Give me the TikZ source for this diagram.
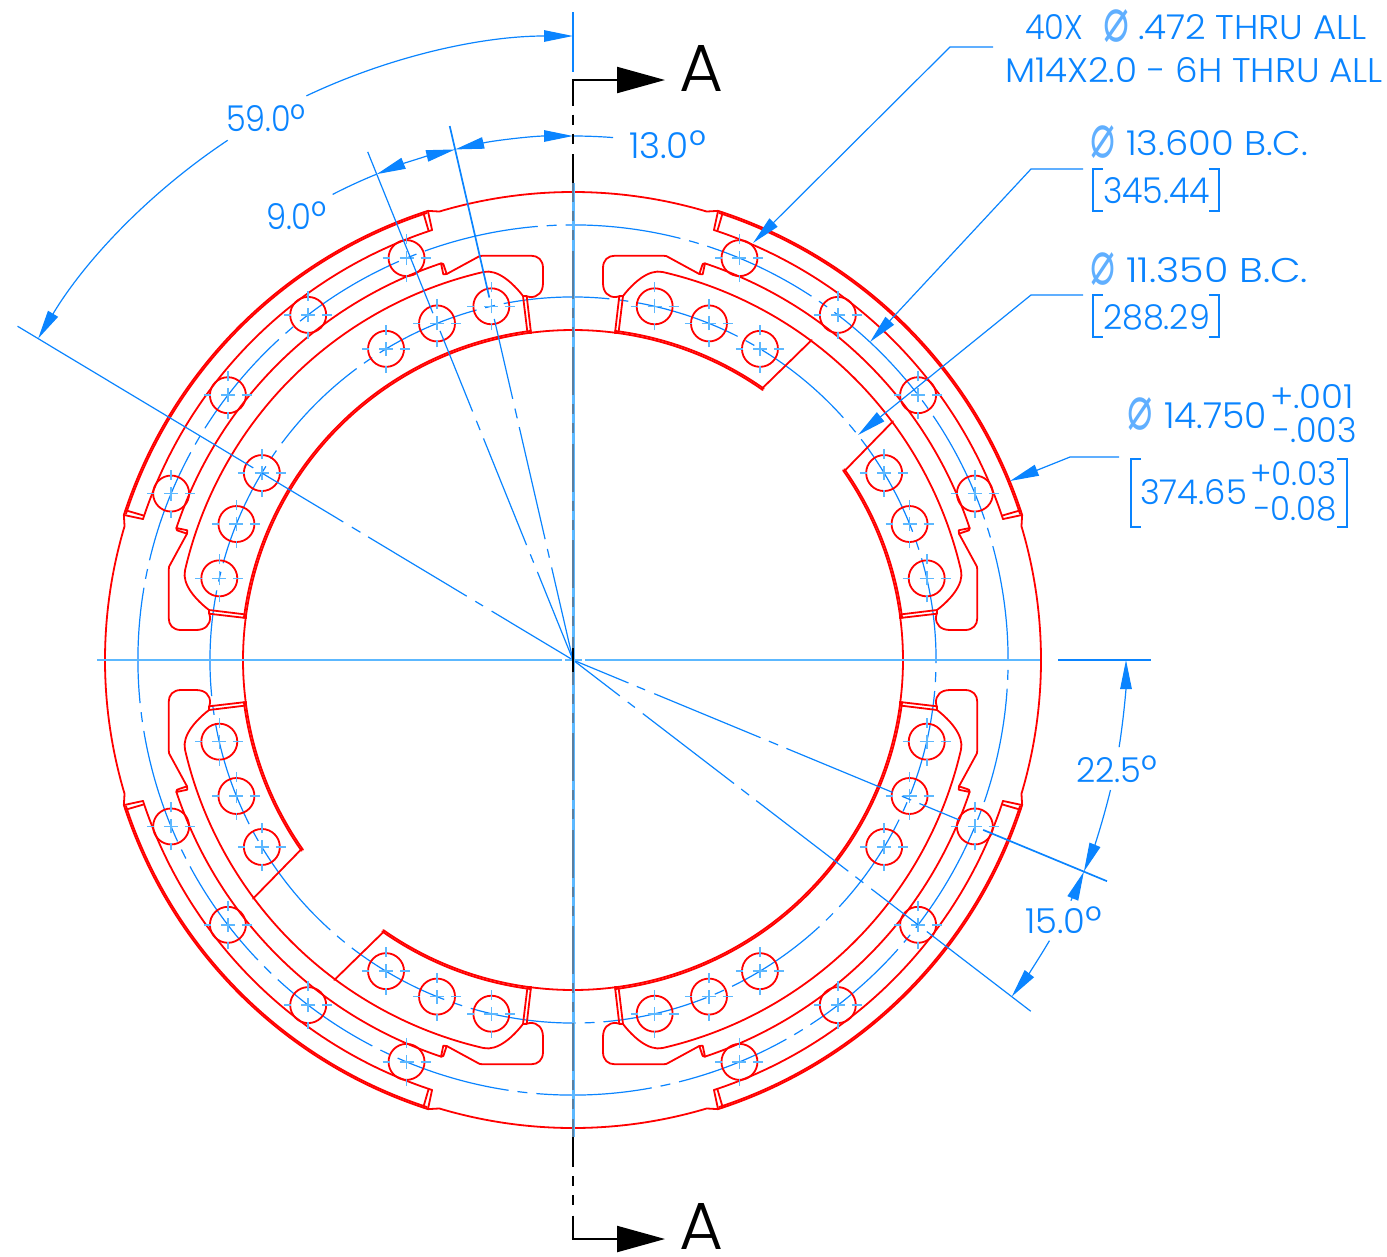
\documentclass[tikz,border=0pt]{standalone}
\usepackage{fontspec}
\usepackage{graphicx}
\usetikzlibrary{arrows.meta}
\setmainfont{Poppins Light}
\newfontfamily\dejavu{DejaVu Sans}
\definecolor{partred}{HTML}{FF0000}
\definecolor{dimblue}{HTML}{0A84FF}
\definecolor{lightblue}{HTML}{5CB8FF}
\definecolor{slate}{HTML}{5A7FA0}
\tikzset{
  partline/.style={draw=partred,line width=1.8pt,line join=round,line cap=round},
  dimline/.style={draw=dimblue,line width=1.2pt},
  thickdim/.style={draw=dimblue,line width=1.7pt},
  markline/.style={draw=lightblue,line width=1.6pt},
  bracketline/.style={draw=dimblue,line width=1.2pt},
  dimtip/.tip={Triangle[length=29pt,width=11.5pt]},
  sectip/.tip={Triangle[length=48pt,width=26pt]},
  dimtext/.style={text=dimblue,inner sep=0pt,outer sep=0pt,anchor=base west},
  symtext/.style={text=dimblue!65,inner sep=0pt,outer sep=0pt,anchor=south west},
  secttext/.style={text=black,inner sep=0pt,outer sep=0pt,anchor=base west},
  sectionchain/.style={line width=2.6pt,dash pattern=on 48pt off 9pt on 10pt off 9pt on 10pt off 10.5pt,dash phase=22.5pt},
}
\newcommand\fit[3]{\resizebox{#1pt}{#2pt}{#3}}
\newcommand\dia[2]{\resizebox*{#1pt}{#2pt}{\dejavu ⌀}}
\newcommand\degsign{\smash{\raisebox{-0.12ex}{\scalebox{1.2}{°}}}}
% polar helper: angle measured from vertical, clockwise
\newcommand\halfprofile[1]{%
  % outer gap arc, transition, notch
  \draw[partline] (90:468) arc[start angle=90,end angle=73.4,radius=468] -- (72.1:472) -- (71.85:452.5);
  \draw[partline] (71.5:472) -- (71.4:452.5);
  \draw[partline] (72.1:472) arc[start angle=72.1,end angle=45,radius=472];
  \draw[partline] (71.9:470.3) arc[start angle=71.9,end angle=45,radius=470.3];
  \draw[partline] (71.85:452.5) arc[start angle=71.85,end angle=45,radius=452.5];
  % tab and inner arc of the outer ring
  \draw[partline] (126.3,386) -- (129.7,396) -- (132,396.7) -- (129.7,385.7) -- cycle;
  \draw[partline] (71.6:418) arc[start angle=71.6,end angle=45,radius=418];
  % hook
  \draw[partline] (126.3,386) -- (96,402.5) .. controls (94,403.8) and (93,404.3) .. (90,404.3) -- (42,404.3)
     .. controls (35,404.3) and (30,400) .. (30,392) -- (30,377)
     .. controls (30,368) and (35,362.5) .. (43,363) -- (48,364);
  % inner piece edge
  \draw[partline] (42,327) -- (46.3,364) -- (50,364) -- (45.5,327) -- cycle;
  \draw[partline] (50,364) .. controls (60,377) and (75.6,391.2) .. (89.6,388)
     arc[start angle=77,end angle=45,radius=398.5];
  % bore
  \draw[partline] (90:330) arc[start angle=90,end angle=82.3,radius=330];
  \draw[partline] (82.7:330) arc[start angle=82.7,end angle=#1,radius=330];
  \draw[partline] (82.7:331.8) arc[start angle=82.7,end angle=#1,radius=331.8];
}
\newcommand\quadrant[1]{%
  \begin{scope}\halfprofile{#1}\end{scope}
  \begin{scope}[cm={0,1,1,0,(0,0)}]\halfprofile{#1}\end{scope}
}
\newcommand\raysegs[3][dimline]{%
  \foreach \a/\b in {#3} {\draw[#1] (#2:\a) -- (#2:\b);}
}
\begin{document}
\begin{tikzpicture}[x=1pt,y=-1pt]
\useasboundingbox (0,0) rectangle (1387,1256);

\begin{scope}[shift={(573,660)},x=1pt,y=1pt]
  % bolt circles
  \draw[dimline,dash pattern=on 115.86pt off 9pt on 10pt off 9pt] (15.16:435) arc[start angle=15.16,delta angle=-360,radius=435];
  \draw[dimline,dash pattern=on 106.17pt off 9pt on 10pt off 9pt] (79.8:363) arc[start angle=79.8,delta angle=-360,radius=363];

  % part
  \begin{scope}\quadrant{54.9}
    \draw[partline] (189.3,271.7) -- (238.7,320);
    \draw[partline] (271.7,189.3) -- (320,238.7);
  \end{scope}
  \begin{scope}[cm={-1,0,0,1,(0,0)}]\quadrant{45}\end{scope}
  \begin{scope}[cm={1,0,0,-1,(0,0)}]\quadrant{45}\end{scope}
  \begin{scope}[cm={-1,0,0,-1,(0,0)}]\quadrant{54.9}
    \draw[partline] (189.3,271.7) -- (238.7,320);
    \draw[partline] (271.7,189.3) -- (320,238.7);
  \end{scope}

  % holes
  \foreach \q in {0,90,180,270} {
    \foreach \t in {22.5,37.5,52.5,67.5} {
      \draw[partline] (\q+\t:435) circle[radius=18];
      \begin{scope}[shift={(\q+\t:435)}]
        \foreach \a/\b in {-24/-17,-7/7,14/24} {
          \draw[markline] (\a,0) -- (\b,0);
          \draw[markline] (0,\a) -- (0,\b);
        }
      \end{scope}
    }
    \foreach \t in {13,22,31,59,68,77} {
      \draw[partline] (\q+\t:363) circle[radius=18];
      \begin{scope}[shift={(\q+\t:363)}]
        \foreach \a/\b in {-24/-17,-7/7,14/24} {
          \draw[markline] (\a,0) -- (\b,0);
          \draw[markline] (0,\a) -- (0,\b);
        }
      \end{scope}
    }
  }

  % extension rays from the centre
  \raysegs{149}{0/95,105/114,124/239,248/258,268/363,373/648}
  \raysegs{103}{0/95,105/114,124/239,248/258,268/350}
  \raysegs[thickdim]{103}{372/548}
  \raysegs{112}{0/95,105/114,124/239,248/258,268/355,374/548}
  \raysegs{-22.5}{0/60,69/78,88/203,212/222,231/346,356/366,375/418}
  \raysegs[thickdim]{-22.5}{444/578}
  \raysegs{-37.5}{0/59,69/78,88/203,212/222,231/347,356/366,376/435,446/577}

  % angular dimensions
  \draw[dimline,{dimtip}-] (90:624) arc[start angle=90,end angle=115.3,radius=624];
  \draw[dimline,{dimtip}-] (149:624) arc[start angle=149,end angle=123.6,radius=624];
  \draw[dimline,{dimtip}-{dimtip}] (90:524) arc[start angle=90,end angle=103,radius=524];
  \draw[dimline] (90:524) arc[start angle=90,end angle=85.6,radius=524];
  \draw[dimline,{dimtip}-{dimtip}] (103:524) arc[start angle=103,end angle=112,radius=524];
  \draw[dimline] (112:524) arc[start angle=112,end angle=117.3,radius=524];
  \draw[dimline,{dimtip}-] (0:553) arc[start angle=0,end angle=-9.07,radius=553];
  \draw[dimline,{dimtip}-] (-22.5:553) arc[start angle=-22.5,end angle=-13.6,radius=553];
  \draw[dimline,{dimtip}-] (-22.5:553) arc[start angle=-22.5,end angle=-25.8,radius=553];
  \draw[dimline,{dimtip}-] (-37.5:553) arc[start angle=-37.5,end angle=-30.5,radius=553];
\end{scope}

% centre lines
\draw[markline] (97,660) -- (562,660);
\draw[markline] (565,660) -- (582,660);
\draw[markline] (585,660) -- (1040,660);
\draw[dimline] (1058,660) -- (1151,660);
\draw[dimline] (573,12) -- (573,72);
\draw[markline,line width=3pt] (573,183) -- (573,1137);

% section line
\foreach \ya/\yb/\col/\w in {70/183/black/2.2,183/648/slate/2.6,648/672/black/2.2,672/1137/slate/2.6,1137/1245/black/2.2} {
  \begin{scope}
    \clip (560,\ya) rectangle (590,\yb);
    \draw[sectionchain,draw=\col,line width=\w pt] (573,80) -- (573,1239);
  \end{scope}
}
\draw[line width=2.2pt,black,-{sectip}] (571.9,80) -- (665,80);
\draw[line width=2.2pt,black,-{sectip}] (571.9,1239) -- (665,1239);
\node[secttext] (secA) at (679,91) {\fit{44}{46}{A}};
\node[secttext] (secB) at (679,1249) {\fit{44}{46}{A}};

% leaders
\draw[dimline,-{dimtip}] (993,47) -- (950,47) -- (753,243);
\draw[dimline,-{dimtip}] (1083,169) -- (1031,169) -- (870,342);
\draw[dimline,-{dimtip}] (1083,295) -- (1031,295) -- (858,435);
\draw[dimline,-{dimtip}] (1119,457) -- (1070,457) -- (1010,481);

% brackets
\draw[bracketline] (1103,169) -- (1093,169) -- (1093,211) -- (1103,211);
\draw[bracketline] (1209,169) -- (1219,169) -- (1219,211) -- (1209,211);
\draw[bracketline] (1103,295) -- (1093,295) -- (1093,337) -- (1103,337);
\draw[bracketline] (1209,295) -- (1219,295) -- (1219,337) -- (1209,337);
\draw[bracketline] (1141,459) -- (1131,459) -- (1131,527) -- (1141,527);
\draw[bracketline] (1337,459) -- (1347,459) -- (1347,527) -- (1337,527);

% texts
\node[dimtext] (tA) at (1025,39.5) {\fit{58}{25}{40X}};
\node[symtext] (tB) at (1103,43) {\dia{26}{33}};
\node[dimtext] (tC) at (1138,39.5) {\fit{229}{25}{.472 THRU ALL}};
\node[dimtext] (tD) at (1005,82) {\fit{378}{25}{M14X2.0 - 6H THRU ALL}};
\node[symtext] (tE) at (1090,159) {\dia{25}{33}};
\node[dimtext] (tF) at (1126,155) {\fit{182}{25}{13.600 B.C.}};
\node[dimtext] (tG) at (1103,203.5) {\fit{107}{26}{345.44}};
\node[symtext] (tH) at (1090,285.5) {\dia{25}{33}};
\node[dimtext] (tI) at (1126,282) {\fit{182}{25}{11.350 B.C.}};
\node[dimtext] (tJ) at (1103,329) {\fit{107}{25}{288.29}};
\node[symtext] (tK) at (1127.5,431) {\dia{25.5}{33}};
\node[dimtext] (tL) at (1164,428) {\fit{103}{26}{14.750}};
\node[dimtext] (tM) at (1270,408.6) {\fit{84}{24}{+.001}};
\node[dimtext] (tN) at (1273,442) {\fit{84}{25}{-.003}};
\node[dimtext] (tO) at (1140,504) {\fit{107}{25}{374.65}};
\node[dimtext] (tP) at (1250,485.5) {\fit{87}{24}{+0.03}};
\node[dimtext] (tQ) at (1254,520.7) {\fit{83}{24}{-0.08}};
\node[dimtext] (tR) at (226,131.7) {\fit{80}{26}{59.0\degsign}};
\node[dimtext] (tS) at (266,229) {\fit{61}{26}{9.0\degsign}};
\node[dimtext] (tT) at (629,158) {\fit{77}{26}{13.0\degsign}};
\node[dimtext] (tU) at (1076,782) {\fit{81}{25}{22.5\degsign}};
\node[dimtext] (tV) at (1025,933) {\fit{77}{25}{15.0\degsign}};
\end{tikzpicture}
\end{document}
